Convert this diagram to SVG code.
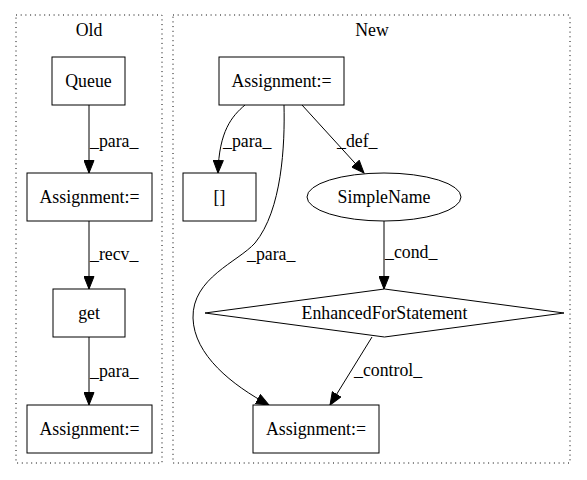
<svg xmlns="http://www.w3.org/2000/svg" width="587" height="480" viewBox="0 0 587 480" font-family="'Liberation Serif', 'DejaVu Serif', serif" font-size="17.8">
<defs>
<marker id="arr" markerUnits="userSpaceOnUse" markerWidth="14" markerHeight="11" refX="13" refY="5.5" orient="auto">
<path d="M0.5,0.5 L13,5.5 L0.5,10.5 z" fill="#000" stroke="#000" stroke-width="1"/>
</marker>
<style>
text{font-family:'Liberation Serif','DejaVu Serif',serif;font-size:17.8px;fill:#000}
.c{text-anchor:middle}
.n{fill:#fff;stroke:#000;stroke-width:1}
.cl{fill:none;stroke:#000;stroke-width:1;stroke-dasharray:1,3.7}
.e{fill:none;stroke:#000;stroke-width:1;marker-end:url(#arr)}
</style>
</defs>
<rect width="587" height="480" fill="#fff"/>
<g id="cluster_old">
<rect class="cl" x="16" y="15" width="146" height="448"/>
<text class="c" x="89" y="36">Old</text>
</g>
<g id="cluster_new">
<rect class="cl" x="173" y="15" width="397" height="448"/>
<text class="c" x="372" y="36">New</text>
</g>
<g id="edges">
<path class="e" d="M89,105 L89,173"/>
<text x="90" y="147">_para_</text>
<path class="e" d="M89,221 L89,289"/>
<text x="90" y="260">_recv_</text>
<path class="e" d="M89,337 L89,405"/>
<text x="90" y="377">_para_</text>
<path class="e" d="M245,105 C232,116 219,131 218,173"/>
<text x="223" y="147">_para_</text>
<path class="e" d="M302,105 L364,173"/>
<text x="337" y="147">_def_</text>
<path class="e" d="M284,105 C285,145 282,210 255,243 C238,262 192,278 193,318 C194,355 232,385 269,405"/>
<text x="247" y="260">_para_</text>
<path class="e" d="M384,221 L384,289"/>
<text x="385" y="258">_cond_</text>
<path class="e" d="M372,337 L330,405"/>
<text x="354" y="376">_control_</text>
</g>
<g id="queue">
<rect class="n" x="52" y="57" width="73" height="48"/>
<text class="c" x="88.5" y="87">Queue</text>
</g>
<g id="old_assign1">
<rect class="n" x="27" y="173" width="125" height="48"/>
<text class="c" x="89.5" y="203">Assignment:=</text>
</g>
<g id="get">
<rect class="n" x="53" y="289" width="72" height="48"/>
<text class="c" x="89" y="319">get</text>
</g>
<g id="old_assign2">
<rect class="n" x="27" y="405" width="125" height="48"/>
<text class="c" x="89.5" y="435">Assignment:=</text>
</g>
<g id="new_assign_top">
<rect class="n" x="219" y="57" width="125" height="48"/>
<text class="c" x="281.5" y="87">Assignment:=</text>
</g>
<g id="brackets">
<rect class="n" x="183" y="173" width="73" height="48"/>
<text class="c" x="219.5" y="203">[]</text>
</g>
<g id="simplename">
<ellipse class="n" cx="384" cy="197" rx="77" ry="24"/>
<text class="c" x="384" y="203">SimpleName</text>
</g>
<g id="enhancedfor">
<polygon class="n" points="384.5,289 564,313 384.5,337 205,313"/>
<text class="c" x="384.5" y="319">EnhancedForStatement</text>
</g>
<g id="new_assign_bottom">
<rect class="n" x="253" y="405" width="126" height="48"/>
<text class="c" x="316" y="435">Assignment:=</text>
</g>
</svg>
